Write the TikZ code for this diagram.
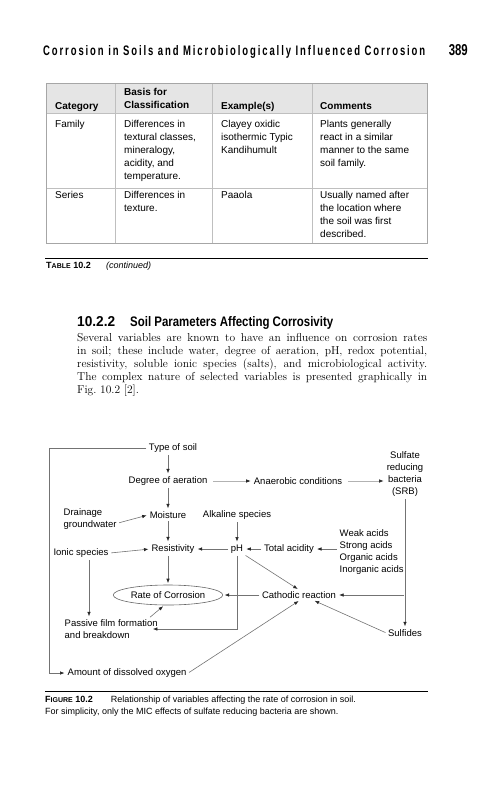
\documentclass[tikz,border=0pt]{standalone}
\usepackage{fontspec}
\setsansfont{Liberation Sans}
\usepackage{graphicx}
\usetikzlibrary{arrows.meta,shapes.geometric}

\begin{document}
\begin{tikzpicture}[x=1pt,y=-1pt,every node/.style={inner sep=0pt},
    cell/.style={anchor=north west,align=left,font=\sffamily\fontsize{10}{13}\selectfont},
    hcell/.style={cell,font=\sffamily\bfseries\fontsize{10}{13}\selectfont},
    var/.style={align=left,inner sep=1.5pt,font=\sffamily\fontsize{9.5}{12}\selectfont},
    link/.style={draw=black!55,line width=0.6pt,shorten <=1pt,shorten >=1.5pt,-{Latex[length=4.5pt,width=3.5pt,color=black!85]}},
    lite/.style={link,draw=black!30,shorten <=4pt}]
    \useasboundingbox (0,0) rectangle (501,800);
    \node[anchor=base west](hdr) at (43,56){\resizebox{382pt}{10pt}{\sffamily\bfseries\addfontfeature{LetterSpace=20}Corrosion in Soils and Microbiologically Influenced Corrosion}};
    \node[anchor=base east](page) at (468,56){\resizebox{19pt}{11pt}{\sffamily\bfseries 389}};
    \fill[black!10] (46,83) rectangle (427,113);
    \foreach \x in {115,212,312}
      \draw[black!25,line width=0.8pt] (\x,83) -- (\x,243);
    \draw[black!25,line width=0.8pt] (46,113) -- (427,113) (46,188) -- (427,188);
    \draw[black!35,line width=1pt] (46,83) rectangle (427,243);
    \node[hcell](hcat) at (55,102.5){Category};
    \node[hcell](hbasis) at (124,88.5){Basis for\\Classification};
    \node[hcell](hex) at (221,102.5){Example(s)};
    \node[hcell](hcom) at (320,102.5){Comments};
    \node[cell](famcat) at (55,120.5){Family};
    \node[cell](fambasis) at (124,120.5){Differences in\\textural classes,\\mineralogy,\\acidity, and\\temperature.};
    \node[cell](famex) at (221,120.5){Clayey oxidic\\isothermic Typic\\Kandihumult};
    \node[cell](famcom) at (320,120.5){Plants generally\\react in a similar\\manner to the same\\soil family.};
    \node[cell](sercat) at (55,191.5){Series};
    \node[cell](serbasis) at (124,191.5){Differences in\\texture.};
    \node[cell](serex) at (221,191.5){Paaola};
    \node[cell](sercom) at (320,191.5){Usually named after\\the location where\\the soil was first\\described.};
    \draw[line width=1pt] (45,258) -- (428,258);
    \node[anchor=base west,font=\sffamily\fontsize{9}{12}\selectfont](tcap) at (46,268){\bfseries T{\scriptsize ABLE} 10.2};
    \node[anchor=base west,font=\sffamily\fontsize{9}{12}\selectfont](tcont) at (106,268){\itshape (continued)};
    \node[anchor=base west](secnum) at (77,326){\resizebox{38pt}{10pt}{\sffamily\bfseries 10.2.2}};
    \node[anchor=base west](sectitle) at (130,326){\resizebox{203pt}{10pt}{\sffamily\bfseries Soil Parameters Affecting Corrosivity}};
    \node[anchor=north west,text width=350pt,align=justify,font=\fontsize{11.5}{13}\selectfont](para) at (77,333){Several variables are known to have an influence on corrosion rates\linebreak in soil; these include water, degree of aeration, pH, redox potential,\linebreak resistivity, soluble ionic species (salts), and microbiological activity.\linebreak The complex nature of selected variables is presented graphically in\linebreak Fig.~10.2 [2].};
    \node[var](soil) at (173,448){Type of soil};
    \node[var](aer) at (168,481){Degree of aeration};
    \node[var](anaer) at (298,481){Anaerobic conditions};
    \node[var,align=center](srb) at (405,474){Sulfate\\reducing\\bacteria\\(SRB)};
    \node[var,anchor=west](drain) at (62,519){Drainage\\groundwater};
    \node[var](moist) at (168,515){Moisture};
    \node[var](alk) at (237,515){Alkaline species};
    \node[var](resist) at (173,549){Resistivity};
    \node[var](ionic) at (81,553){Ionic species};
    \node[var](ph) at (237,549){pH};
    \node[var](acid) at (289,549){Total acidity};
    \node[var,anchor=west](acids) at (338,552){Weak acids\\Strong acids\\Organic acids\\Inorganic acids};
    \node[var,ellipse,draw=black!60,line width=0.6pt,minimum width=103pt,minimum height=20pt](rate) at (168,595){Rate of Corrosion};
    \node[var](cath) at (299,595){Cathodic reaction};
    \node[var,anchor=west](passive) at (63,629){Passive film formation\\and breakdown};
    \node[var](sulf) at (405,633){Sulfides};
    \node[var,anchor=west](oxy) at (66,673){Amount of dissolved oxygen};
    \coordinate(bend) at (49,448);
    \draw[link] (aer |- soil.south) -- (aer.north);
    \draw[lite] (aer.east) -- (anaer.west);
    \draw[lite] (anaer.east) -- (anaer.east -| srb.west);
    \draw[link] (aer.south) -- (moist.north);
    \draw[link] ([yshift=-4pt]drain.east) -- (moist.west);
    \draw[link] (moist.south) -- (moist.south |- resist.north);
    \draw[link] (ionic.east) -- (resist.west);
    \draw[link] (alk.south) -- (ph.north);
    \draw[link] (ph.west) -- (resist.east);
    \draw[link] (acid.west) -- (ph.east);
    \draw[link] (acids.west |- acid.east) -- (acid.east);
    \draw[link] (rate |- resist.south) -- (rate.north);
    \draw[link] ([xshift=8pt]ionic.south) -- ([xshift=8pt]ionic.south |- passive.north);
    \draw[link] ([xshift=-10pt]passive.north east) -- (rate.-110);
    \draw[link] (ph.south) |- ([xshift=-8pt]passive.east);
    \draw[link] (cath.west) -- (rate.east);
    \draw[link] (ph.south east) -- (cath.north);
    \draw[link] (srb.south) -- (sulf.north);
    \draw[link] (srb.south |- cath.east) -- (cath.east);
    \draw[link] (sulf.west) -- (cath.-20);
    \draw[link] (oxy.east) -- (cath.-80);
    \draw[link] (soil.west) -- (bend) |- (oxy.west);
    \draw[line width=1pt] (45,691) -- (428,691);
    \node[anchor=north west,align=left,font=\sffamily\fontsize{9}{12}\selectfont](fcap) at (45,696){{\bfseries F{\scriptsize IGURE} 10.2}\hspace{18pt}Relationship of variables affecting the rate of corrosion in soil.\\For simplicity, only the MIC effects of sulfate reducing bacteria are shown.};
\end{tikzpicture}
\end{document}
